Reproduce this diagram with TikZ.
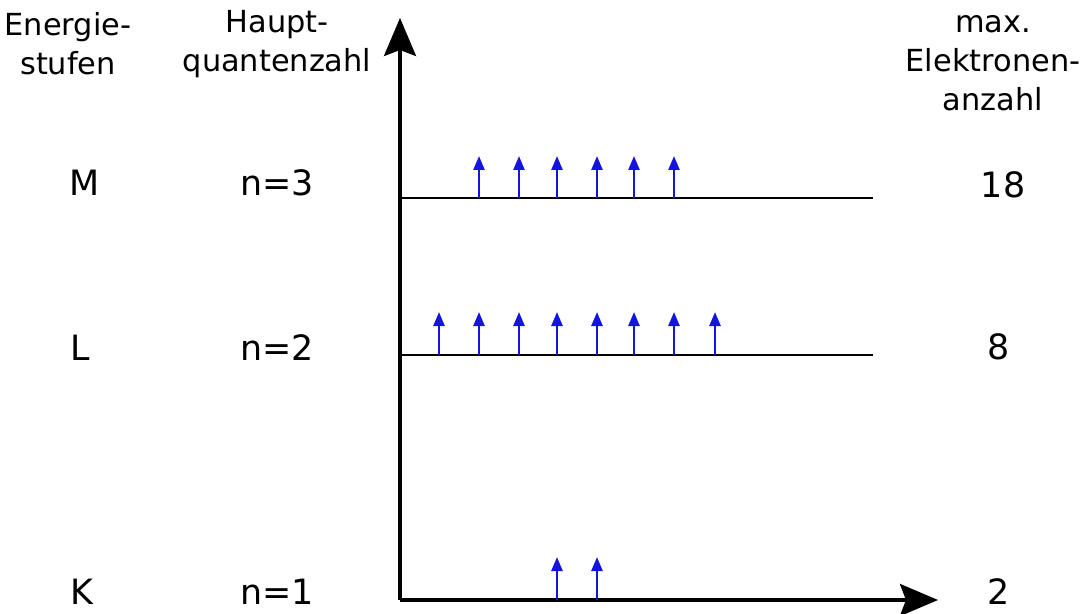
\documentclass[tikz,border=0pt]{standalone}
\usepackage{fontspec}
\setmainfont{DejaVu Sans}
\usetikzlibrary{arrows.meta}
\definecolor{elblue}{RGB}{20,20,225}
\tikzset{
  axis/.style={line width=3.5bp, -{Stealth[length=38bp,width=32bp,inset=6bp]}},
  level/.style={line width=2.5bp},
  electron/.style={elblue, line width=2.5bp, -{Triangle[length=14bp,width=11bp]}},
  head/.style={align=center, font=\fontsize{30.5}{39}\selectfont, inner sep=0pt},
  lab/.style={font=\fontsize{35}{42}\selectfont, inner sep=0pt}
}
\begin{document}
\begin{tikzpicture}[x=1bp,y=-1bp]
\useasboundingbox (0,0) rectangle (1087,614);
\coordinate (O) at (400,600);
\coordinate (Ytip) at (400,18);
\coordinate (Xtip) at (938,600);
\coordinate (L3a) at (400,198);
\coordinate (L3b) at (873,198);
\coordinate (L2a) at (400,355);
\coordinate (L2b) at (873,355);
\draw[level] (L3a) -- (L3b);
\draw[level] (L2a) -- (L2b);
\draw[axis] (O) -- (Ytip);
\draw[axis] (O) -- (Xtip);
% electrons
\foreach \x [count=\i] in {479,519,557,597,634,674} {
  \coordinate (m\i) at (\x,198);
  \coordinate (mt\i) at (\x,156);
  \draw[electron] (m\i) -- (mt\i);
}
\foreach \x [count=\i] in {439,479,519,557,597,634,674,715} {
  \coordinate (l\i) at (\x,355);
  \coordinate (lt\i) at (\x,312);
  \draw[electron] (l\i) -- (lt\i);
}
\foreach \x [count=\i] in {557,597} {
  \coordinate (k\i) at (\x,600);
  \coordinate (kt\i) at (\x,557);
  \draw[electron] (k\i) -- (kt\i);
}
% headings
\node[head] (h1) at (68,44) {Energie-\\stufen};
\node[head] (h2) at (277,44) {Haupt-\\quantenzahl};
\node[head] (h3) at (993,63) {max.\\Elektronen-\\anzahl};
% labels
\node[lab] (M) at (85,183) {M};
\node[lab] (n3) at (277,183) {n=3};
\node[lab] (e3) at (1003,185) {18};
\node[lab] (L) at (80,348) {L};
\node[lab] (n2) at (277,348) {n=2};
\node[lab] (e2) at (999,347) {8};
\node[lab] (K) at (82,592) {K};
\node[lab] (n1) at (277,592) {n=1};
\node[lab] (e1) at (999,592) {2};
\end{tikzpicture}
\end{document}
